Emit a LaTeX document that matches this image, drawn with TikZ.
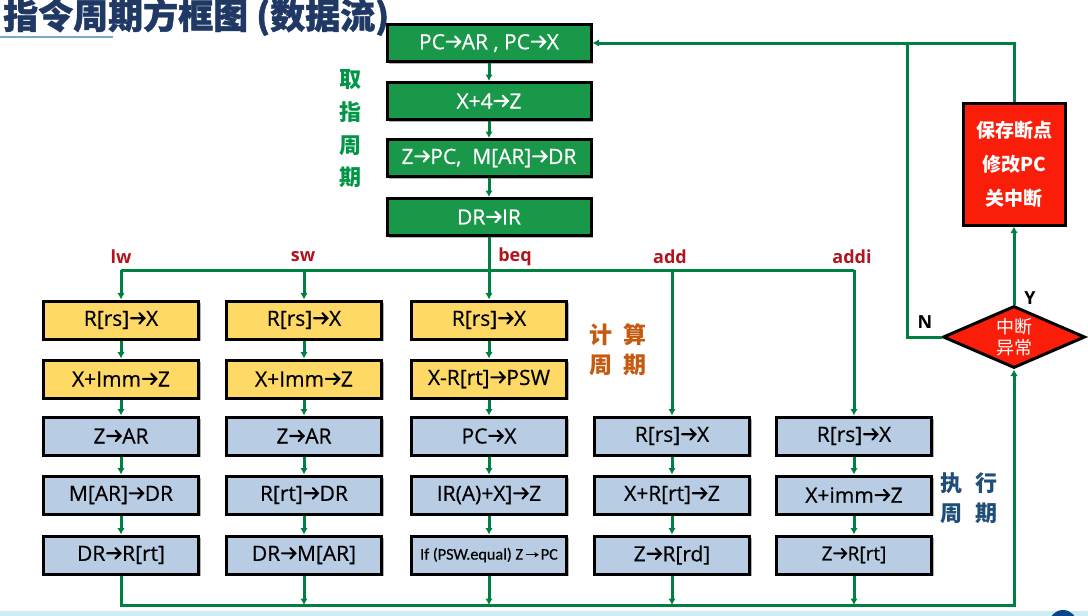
\documentclass[tikz,border=0pt]{standalone}
\usepackage{fontspec}
\setmainfont{Open Sans}
\newfontfamily\boxfont{Open Sans}[FakeBold=0.6]
\newfontfamily\cjk{Noto Sans CJK SC}
\newfontfamily\cjkh{Noto Sans CJK SC}[BoldFeatures={FakeBold=1.2}]
\newfontfamily\carl{Carlito}[FakeBold=0.5]
\usetikzlibrary{shapes.geometric,arrows.meta,shadows}
\definecolor{gbox}{RGB}{24,152,72}
\definecolor{gline}{RGB}{0,128,64}
\definecolor{ybox}{RGB}{255,217,102}
\definecolor{bbox}{RGB}{184,204,228}
\definecolor{rbox}{RGB}{250,30,10}
\definecolor{lab}{RGB}{176,20,30}
\definecolor{navy}{RGB}{31,56,100}
\definecolor{orn}{RGB}{197,90,17}
\definecolor{exe}{RGB}{31,78,121}
\definecolor{fetch}{RGB}{0,150,70}
\definecolor{uline}{RGB}{120,170,200}
\definecolor{band}{RGB}{205,236,246}
\definecolor{pgno}{RGB}{10,70,140}
\newcommand\arw[1]{\hspace{0.03em}\tikz[baseline=-0.36em,x=1em,y=1em]\draw[draw=#1,line width=0.1em,line cap=round,line join=miter](0,0)--(0.64,0)(0.40,0.25)--(0.64,0)--(0.40,-0.25);\hspace{0.03em}}
\newcommand\thinarw{\hspace{0.12em}\tikz[baseline=-0.3em,x=1em,y=1em]{\draw[draw=black,line width=0.07em](0,0)--(0.7,0);\fill[black](0.82,0)--(0.55,0.16)--(0.6,0)--(0.55,-0.16)--cycle;}\hspace{0.12em}}
\tikzset{
  box/.style={draw=black, line width=3pt, minimum width=155pt, minimum height=38pt, inner sep=0pt,
    font=\boxfont\fontsize{21}{24}\selectfont,
    drop shadow={shadow xshift=2pt, shadow yshift=-2pt, opacity=0.3, fill=black}},
  gb/.style={box, fill=gbox, text=white, minimum width=204pt, minimum height=37pt},
  yb/.style={box, fill=ybox},
  bb/.style={box, fill=bbox},
  flow/.style={draw=gline, line width=3pt},
  arr/.style={flow, -{Latex[length=6.5pt,width=7.5pt]}},
  lbl/.style={text=lab, inner sep=0pt, font=\bfseries\fontsize{18}{20}\selectfont},
  yn/.style={text=black, inner sep=0pt, font=\bfseries\fontsize{18}{20}\selectfont},
}
\begin{document}
\begin{tikzpicture}[x=1pt,y=-1pt]
\useasboundingbox (0,0) rectangle (1088,616);
\fill[white] (0,0) rectangle (1088,616);
\begin{scope}
\clip (0,0) rectangle (1088,616);
\fill[band] (0,611) rectangle (1088,616);
\fill[pgno] (1063,624) circle (14);
\end{scope}
% title
\node[anchor=west, text=navy, inner sep=0pt, font=\cjkh\bfseries\fontsize{35}{37}\selectfont] (title) at (3,17) {指令周期方框图 (数据流)};
\draw[uline, line width=2pt] (0,37) -- (113,37);
% fetch cycle
\node[gb] (g1) at (489,43) {PC\arw{white}AR , PC\arw{white}X};
\node[gb] (g2) at (489,101) {X+4\arw{white}Z};
\node[gb] (g3) at (489,158) {Z\arw{white}PC,\ \ M[AR]\arw{white}DR};
\node[gb] (g4) at (489,217) {DR\arw{white}IR};
\node[text=fetch, align=center, inner sep=0pt, font=\cjk\bfseries\fontsize{22}{32.7}\selectfont] (fz) at (350,129) {取\\指\\周\\期};
% column 1 (lw)
\node[yb] (c1r1) at (121,320) {R[rs]\arw{black}X};
\node[yb] (c1r2) at (121,379) {X+Imm\arw{black}Z};
\node[bb] (c1r3) at (121,436) {Z\arw{black}AR};
\node[bb] (c1r4) at (121,495) {M[AR]\arw{black}DR};
\node[bb] (c1r5) at (121,555) {DR\arw{black}R[rt]};
% column 2 (sw)
\node[yb] (c2r1) at (304,320) {R[rs]\arw{black}X};
\node[yb] (c2r2) at (304,379) {X+Imm\arw{black}Z};
\node[bb] (c2r3) at (304,436) {Z\arw{black}AR};
\node[bb] (c2r4) at (304,495) {R[rt]\arw{black}DR};
\node[bb] (c2r5) at (304,555) {DR\arw{black}M[AR]};
% column 3 (beq)
\node[yb] (c3r1) at (489,320) {R[rs]\arw{black}X};
\node[yb] (c3r2) at (489,379) {X-R[rt]\arw{black}PSW};
\node[bb] (c3r3) at (489,436) {PC\arw{black}X};
\node[bb] (c3r4) at (489,495) {IR(A)+X]\arw{black}Z};
\node[bb, font=\carl\fontsize{16.2}{18}\selectfont] (c3r5) at (489,555) {If (PSW.equal) Z\thinarw PC};
% column 4 (add)
\node[bb] (c4r3) at (672,436) {R[rs]\arw{black}X};
\node[bb] (c4r4) at (672,495) {X+R[rt]\arw{black}Z};
\node[bb] (c4r5) at (672,555) {Z\arw{black}R[rd]};
% column 5 (addi)
\node[bb] (c5r3) at (854,436) {R[rs]\arw{black}X};
\node[bb] (c5r4) at (854,495) {X+imm\arw{black}Z};
\node[bb, font=\boxfont\fontsize{19}{22}\selectfont] (c5r5) at (854,555) {Z\arw{black}R[rt]};
% cycle labels
\node[text=orn, align=center, inner sep=0pt, font=\cjk\bfseries\fontsize{23}{30}\selectfont] (jsz) at (618,350) {计\hspace{0.5em}算\\周\hspace{0.5em}期};
\node[text=exe, align=center, inner sep=0pt, font=\cjk\bfseries\fontsize{22}{30}\selectfont] (zxz) at (969,498) {执\hspace{0.6em}行\\周\hspace{0.6em}期};
% bus labels
\node[lbl] (llw) at (121,257) {lw};
\node[lbl] (lsw) at (303,257) {sw};
\node[lbl] (lbeq) at (515,257) {beq};
\node[lbl] (ladd) at (670,257) {add};
\node[lbl] (laddi) at (852,257) {addi};
% interrupt
\node[draw=black, fill=rbox, line width=3pt, minimum width=102pt, minimum height=122pt, inner sep=0pt, text=white, align=center,
  font=\cjk\bfseries\fontsize{19}{34}\selectfont,
  drop shadow={shadow xshift=2pt, shadow yshift=-2pt, opacity=0.3, fill=black}] (red) at (1014,164) {保存断点\\修改PC\\关中断};
\node[diamond, aspect=2.3, draw=black, fill=rbox, line width=3pt, minimum width=142pt, minimum height=62pt, inner sep=0pt,
  text=white, align=center, font=\cjk\fontsize{18}{21}\selectfont] (dia) at (1014,337) {中断\\异常};
\node[yn] (ly) at (1030,298) {Y};
\node[yn] (ln) at (925,322) {N};
% connectors: fetch
\draw[arr] (g1) -- (g2);
\draw[arr] (g2) -- (g3);
\draw[arr] (g3) -- (g4);
\coordinate (busL) at (121,270);
\coordinate (busR) at (854,270);
\draw[flow] (busL) -- (busR);
\draw[arr] (g4) -- (c3r1);
\draw[arr] (busL) -- (c1r1);
\draw[arr] (c2r1.north |- busL) -- (c2r1);
\draw[arr] (c4r3.north |- busL) -- (c4r3);
\draw[arr] (busR) -- (c5r3);
% columns
\foreach \c in {1,2,3}{
  \draw[arr] (c\c r1) -- (c\c r2);
  \draw[arr] (c\c r2) -- (c\c r3);
}
\foreach \c in {1,2,3,4,5}{
  \draw[arr] (c\c r3) -- (c\c r4);
  \draw[arr] (c\c r4) -- (c\c r5);
}
% bottom bus
\coordinate (botR) at (1014,605);
\draw[arr] (c1r5.south) |- (botR) -- (dia.south);
\foreach \c in {2,3,4,5}{
  \draw[arr] (c\c r5.south) -- (c\c r5.south |- botR);
}
% interrupt loop
\draw[arr] (dia.north) -- (red.south);
\draw[arr] (red.north) |- (g1.east);
\coordinate (ntop) at (907,43);
\draw[flow] (dia.west) -| (ntop);
\end{tikzpicture}
\end{document}
